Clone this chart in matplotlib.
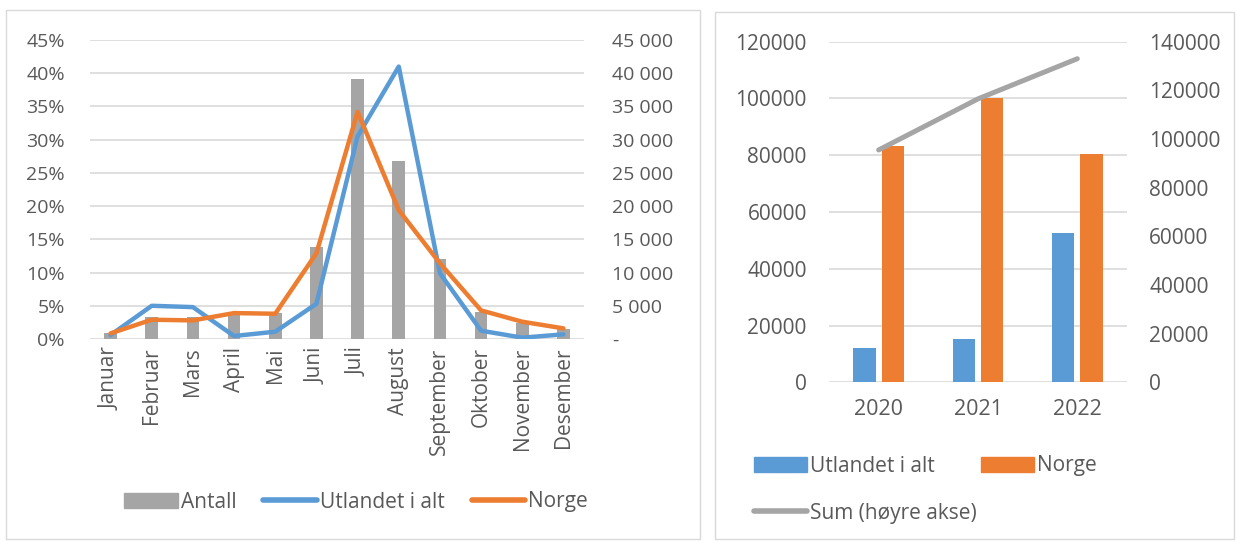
import matplotlib
matplotlib.use("Agg")
import matplotlib.pyplot as plt
from matplotlib.patches import Rectangle
from matplotlib.lines import Line2D
import numpy as np

plt.rcParams['font.family'] = ['Open Sans', 'DejaVu Sans']

months = ["Januar", "Februar", "Mars", "April", "Mai", "Juni", "Juli",
          "August", "September", "Oktober", "November", "Desember"]
antall = [900, 3300, 3300, 3900, 3900, 13900, 39100, 26800, 12000, 4000, 2400, 1500]
utlandet_pct = [0.6, 5.0, 4.8, 0.45, 1.1, 5.3, 30.5, 41.0, 9.9, 1.25, 0.2, 0.7]
norge_pct = [0.85, 2.9, 2.8, 3.9, 3.8, 12.9, 34.2, 19.4, 11.4, 4.3, 2.6, 1.6]

years = ["2020", "2021", "2022"]
utlandet_year = [12000, 15300, 52500]
norge_year = [83200, 100000, 80400]
sum_year = [95500, 116500, 133000]

GREY = "#a5a5a5"
BLUE = "#5b9bd5"
ORANGE = "#ed7d31"
TXT = "#595959"
GRID = "#d9d9d9"

W, H = 1238, 541
fig = plt.figure(figsize=(W / 100, H / 100), dpi=100)

def fax(x0, y0, x1, y1):
    return [x0 / W, 1 - y1 / H, (x1 - x0) / W, (y1 - y0) / H]

# panel borders
for (x0, y0, x1, y1) in [(6, 10, 700, 539), (715, 12, 1234, 539)]:
    fig.patches.append(Rectangle((x0 / W, 1 - y1 / H), (x1 - x0) / W, (y1 - y0) / H,
                                 transform=fig.transFigure, fill=False,
                                 edgecolor=GRID, linewidth=1))

FS = 14
LFS = 15

# ---------- Left chart ----------
ax = fig.add_axes(fax(90, 40, 584, 339))
ax2 = ax.twinx()
x = np.arange(len(months))
ax2.bar(x, antall, width=0.31, color=GREY, zorder=1)
ax2.set_ylim(0, 45000)
ax.set_ylim(0, 45)
ax.set_xlim(-0.5, len(months) - 0.5)
ax.set_zorder(ax2.get_zorder() + 1)
ax.patch.set_visible(False)
ax.plot(x, utlandet_pct, color=BLUE, lw=3.2, solid_capstyle='round', solid_joinstyle='round')
ax.plot(x, norge_pct, color=ORANGE, lw=3.2, solid_capstyle='round', solid_joinstyle='round')
ax.set_yticks(np.arange(0, 46, 5))
ax.set_yticklabels([f"{v}%" for v in range(0, 46, 5)])
ax2.set_yticks(np.arange(0, 45001, 5000))
ax2.set_yticklabels(["-"] + [f"{v // 1000} 000" for v in range(5000, 45001, 5000)])
for v in range(0, 46, 5):
    ax2.axhline(v * 1000, color=GRID, lw=1.2, zorder=0)
ax.set_xticks(x)
ax.set_xticklabels(months, rotation=90, va='top')
for a in (ax, ax2):
    for s in a.spines.values():
        s.set_visible(False)
    a.tick_params(length=0, labelsize=FS, colors=TXT)
ax.tick_params(axis='x', labelsize=LFS, pad=6)
ax.tick_params(axis='y', pad=18)
ax2.tick_params(axis='y', pad=20)

handles = [Rectangle((0, 0), 1, 1, color=GREY),
           Line2D([0], [0], color=BLUE, lw=4, solid_capstyle='round'),
           Line2D([0], [0], color=ORANGE, lw=4, solid_capstyle='round')]
fig.legend(handles, ["Antall", "Utlandet i alt", "Norge"], loc='center',
           bbox_to_anchor=(356 / W, 1 - 502 / H), ncol=3, frameon=False,
           fontsize=LFS, handlelength=2.55, handletextpad=0.15, columnspacing=1.3,
           labelcolor=TXT)

# ---------- Right chart ----------
bx = fig.add_axes(fax(829, 41.7, 1127, 382.3))
bx2 = bx.twinx()
xi = np.arange(len(years))
bw = 0.225
bx.bar(xi - 0.143, utlandet_year, width=bw, color=BLUE, zorder=2)
bx.bar(xi + 0.143, norge_year, width=bw, color=ORANGE, zorder=2)
bx.set_ylim(0, 120000)
bx.set_xlim(-0.5, 2.5)
bx.set_yticks(np.arange(0, 120001, 20000))
bx.set_yticklabels([str(v) for v in range(0, 120001, 20000)])
for v in range(0, 120001, 20000):
    bx.axhline(v, color=GRID, lw=1.2, zorder=0)
bx2.plot(xi, sum_year, color=GREY, lw=3.6, solid_capstyle='round')
bx2.set_ylim(0, 140000)
bx2.set_yticks(np.arange(0, 140001, 20000))
bx2.set_yticklabels([str(v) for v in range(0, 140001, 20000)])
bx.set_xticks(xi)
bx.set_xticklabels(years)
for a in (bx, bx2):
    for s in a.spines.values():
        s.set_visible(False)
    a.tick_params(length=0, labelsize=FS + 1, colors=TXT)
bx.tick_params(axis='y', pad=16)
bx2.tick_params(axis='y', pad=16)
bx.tick_params(axis='x', pad=12, labelsize=FS + 1.5)

h1 = [Rectangle((0, 0), 1, 1, color=BLUE), Rectangle((0, 0), 1, 1, color=ORANGE)]
fig.legend(h1, ["Utlandet i alt", "Norge"], loc='center left',
           bbox_to_anchor=(735 / W, 1 - 466 / H), ncol=2, frameon=False,
           fontsize=LFS, handlelength=2.55, handletextpad=0.15, columnspacing=2.2,
           labelcolor=TXT)
fig.legend([Line2D([0], [0], color=GREY, lw=4, solid_capstyle='round')], ["Sum (høyre akse)"],
           loc='center left', bbox_to_anchor=(735 / W, 1 - 513 / H), frameon=False,
           fontsize=LFS, handlelength=2.55, handletextpad=0.15, labelcolor=TXT)

fig.savefig("out.png", dpi=100)
